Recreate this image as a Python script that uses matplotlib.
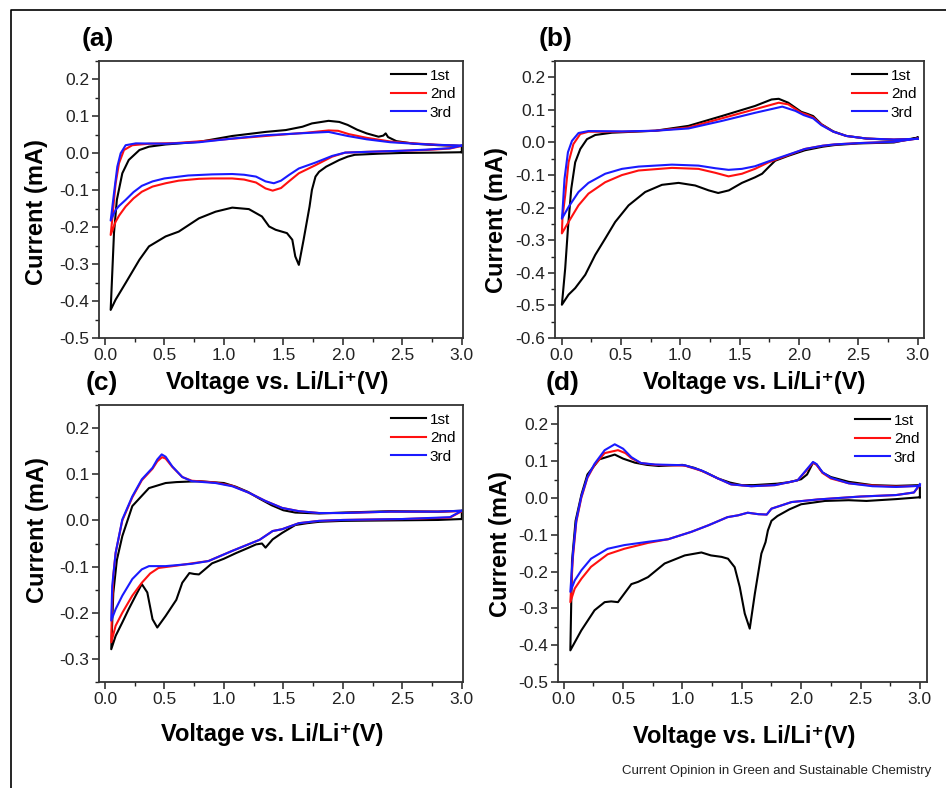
import matplotlib
matplotlib.use("Agg")
import matplotlib.pyplot as plt
from matplotlib.lines import Line2D
from matplotlib.ticker import MultipleLocator, FormatStrFormatter

# ---- panel (a) ----
a_v1 = [3.0, 2.8, 2.5, 2.3, 2.1, 2.04, 1.97, 1.86, 1.8, 1.77, 1.74, 1.72, 1.67, 1.63, 1.6, 1.575, 1.53,
        1.435, 1.38, 1.32, 1.21, 1.07, 0.93, 0.79, 0.62, 0.51, 0.37, 0.29, 0.174, 0.09, 0.048,
        0.062, 0.076, 0.10, 0.146, 0.2, 0.29, 0.37, 0.51, 0.79, 1.07, 1.35, 1.52, 1.66, 1.74, 1.88,
        1.97, 2.04, 2.12, 2.2, 2.3, 2.34, 2.36, 2.38, 2.45, 2.6, 2.8, 3.0, 3.0]
a_i1 = [0.003, 0.002, 0.001, -0.001, -0.004, -0.009, -0.018, -0.036, -0.05, -0.063, -0.099, -0.144, -0.234,
        -0.302, -0.279, -0.234, -0.216, -0.207, -0.198, -0.171, -0.151, -0.147, -0.158, -0.176, -0.212,
        -0.225, -0.252, -0.288, -0.351, -0.396, -0.424,
        -0.32, -0.216, -0.126, -0.054, -0.018, 0.009, 0.018, 0.024, 0.031, 0.047, 0.058, 0.063, 0.072,
        0.081, 0.088, 0.085, 0.077, 0.064, 0.054, 0.045, 0.048, 0.054, 0.044, 0.033, 0.026, 0.022, 0.02, 0.003]
a_v2 = [3.0, 2.9, 2.7, 2.5, 2.2, 2.02, 1.91, 1.77, 1.63, 1.55, 1.48, 1.41, 1.35, 1.27, 1.17, 1.07, 0.9, 0.79,
        0.62, 0.51, 0.4, 0.31, 0.24, 0.174, 0.12, 0.09, 0.048,
        0.061, 0.075, 0.09, 0.118, 0.16, 0.23, 0.37, 0.6, 0.9, 1.2, 1.5, 1.7, 1.88, 1.96, 2.05, 2.2, 2.4,
        2.6, 2.8, 3.0]
a_i2 = [0.02, 0.013, 0.009, 0.007, 0.004, 0.002, -0.009, -0.032, -0.054, -0.075, -0.094, -0.101, -0.095,
        -0.079, -0.071, -0.068, -0.068, -0.069, -0.074, -0.081, -0.09, -0.104, -0.122, -0.144, -0.168,
        -0.185, -0.221,
        -0.18, -0.13, -0.081, -0.027, 0.009, 0.022, 0.026, 0.028, 0.035, 0.043, 0.051, 0.056, 0.062,
        0.061, 0.052, 0.042, 0.032, 0.027, 0.023, 0.02]
a_v3 = [3.0, 2.9, 2.7, 2.5, 2.2, 2.02, 1.91, 1.77, 1.63, 1.55, 1.48, 1.42, 1.35, 1.27, 1.17, 1.07, 0.9, 0.7,
        0.5, 0.4, 0.31, 0.24, 0.174, 0.12, 0.09, 0.048,
        0.056, 0.076, 0.104, 0.132, 0.174, 0.26, 0.51, 0.79, 1.07, 1.35, 1.63, 1.88, 2.04, 2.2, 2.4,
        2.6, 2.8, 3.0]
a_i3 = [0.021, 0.014, 0.01, 0.007, 0.004, 0.002, -0.007, -0.025, -0.041, -0.058, -0.074, -0.081, -0.076,
        -0.063, -0.058, -0.056, -0.057, -0.06, -0.068, -0.076, -0.088, -0.105, -0.126, -0.142, -0.153,
        -0.182,
        -0.162, -0.108, -0.036, 0.0, 0.022, 0.027, 0.026, 0.03, 0.04, 0.049, 0.054, 0.058, 0.047,
        0.038, 0.03, 0.026, 0.023, 0.021]

# ---- panel (b) ----
b_v1 = [3.0, 2.8, 2.5, 2.3, 2.2, 2.05, 1.91, 1.8, 1.744, 1.69, 1.63, 1.52, 1.41, 1.32, 1.24, 1.126, 0.986,
        0.846, 0.705, 0.565, 0.452, 0.368, 0.284, 0.2, 0.115, 0.059, 0.003,
        0.031, 0.054, 0.082, 0.115, 0.158, 0.214, 0.284, 0.425, 0.79, 1.07, 1.35, 1.63, 1.77, 1.83,
        1.91, 2.02, 2.07, 2.12, 2.19, 2.29, 2.4, 2.57, 2.8, 3.0, 3.0]
b_i1 = [0.015, 0.0, -0.003, -0.008, -0.013, -0.024, -0.041, -0.056, -0.076, -0.096, -0.107, -0.124,
        -0.147, -0.155, -0.147, -0.132, -0.124, -0.13, -0.152, -0.193, -0.244, -0.295, -0.345, -0.406,
        -0.447, -0.467, -0.498,
        -0.386, -0.264, -0.142, -0.061, -0.02, 0.01, 0.023, 0.03, 0.036, 0.051, 0.081, 0.112, 0.132,
        0.134, 0.122, 0.094, 0.088, 0.081, 0.056, 0.034, 0.02, 0.012, 0.008, 0.012, 0.015]
b_v2 = [3.0, 2.8, 2.5, 2.3, 2.2, 2.05, 1.857, 1.744, 1.63, 1.52, 1.407, 1.295, 1.154, 0.93, 0.649, 0.509,
        0.368, 0.227, 0.143, 0.059, 0.003,
        0.008, 0.031, 0.059, 0.1, 0.158, 0.227, 0.51, 0.79, 1.07, 1.35, 1.63, 1.83, 1.91, 2.02, 2.07,
        2.12, 2.19, 2.29, 2.4, 2.57, 2.8, 3.0]
b_i2 = [0.012, 0.002, -0.002, -0.006, -0.01, -0.02, -0.046, -0.061, -0.081, -0.096, -0.104, -0.093,
        -0.081, -0.078, -0.086, -0.1, -0.122, -0.157, -0.193, -0.244, -0.279,
        -0.23, -0.162, -0.061, -0.005, 0.026, 0.033, 0.033, 0.036, 0.046, 0.074, 0.102, 0.122, 0.117,
        0.091, 0.085, 0.077, 0.055, 0.033, 0.02, 0.012, 0.009, 0.011]
b_v3 = [3.0, 2.8, 2.5, 2.3, 2.2, 2.05, 1.857, 1.744, 1.63, 1.52, 1.407, 1.295, 1.154, 0.93, 0.649, 0.509,
        0.368, 0.227, 0.143, 0.059, 0.003,
        0.008, 0.025, 0.054, 0.088, 0.143, 0.227, 0.51, 0.79, 1.07, 1.35, 1.63, 1.86, 1.97, 2.04, 2.12,
        2.19, 2.29, 2.4, 2.57, 2.8, 3.0]
b_i3 = [0.012, 0.002, -0.002, -0.006, -0.01, -0.02, -0.044, -0.058, -0.073, -0.081, -0.084, -0.079,
        -0.071, -0.068, -0.074, -0.081, -0.096, -0.124, -0.152, -0.198, -0.234,
        -0.213, -0.112, -0.03, 0.005, 0.029, 0.035, 0.034, 0.036, 0.043, 0.066, 0.091, 0.11, 0.097,
        0.084, 0.074, 0.053, 0.033, 0.02, 0.012, 0.009, 0.011]

# ---- panel (c) ----
c_v1 = [3.0, 2.8, 2.4, 2.0, 1.8, 1.7, 1.6, 1.49, 1.41, 1.35, 1.32, 1.27, 1.2, 1.1, 1.0, 0.9, 0.79, 0.75,
        0.71, 0.65, 0.6, 0.51, 0.44, 0.4, 0.356, 0.31, 0.258, 0.2, 0.146, 0.09, 0.053,
        0.07, 0.1, 0.146, 0.23, 0.37, 0.51, 0.6, 0.79, 1.0, 1.1, 1.2, 1.3, 1.4, 1.5, 1.6, 1.8, 2.0,
        2.4, 2.8, 3.0, 3.0]
c_i1 = [0.003, 0.001, 0.0, -0.001, -0.003, -0.006, -0.01, -0.027, -0.041, -0.059, -0.05, -0.052, -0.06,
        -0.071, -0.083, -0.093, -0.117, -0.116, -0.114, -0.135, -0.172, -0.207, -0.232, -0.214, -0.156,
        -0.138, -0.163, -0.192, -0.221, -0.25, -0.279,
        -0.158, -0.086, -0.034, 0.031, 0.07, 0.081, 0.083, 0.085, 0.081, 0.073, 0.062, 0.047, 0.033,
        0.022, 0.017, 0.015, 0.017, 0.02, 0.019, 0.021, 0.003]
c_v2 = [3.0, 2.9, 2.5, 2.0, 1.8, 1.63, 1.49, 1.41, 1.3, 1.07, 0.87, 0.73, 0.6, 0.51, 0.45, 0.38, 0.31,
        0.23, 0.146, 0.09, 0.053,
        0.058, 0.07, 0.09, 0.146, 0.23, 0.31, 0.40, 0.44, 0.48, 0.51, 0.566, 0.65, 0.73, 0.93, 1.07,
        1.21, 1.35, 1.49, 1.63, 1.8, 2.0, 2.4, 2.8, 3.0]
c_i2 = [0.02, 0.006, 0.003, 0.001, -0.001, -0.006, -0.019, -0.023, -0.042, -0.066, -0.088, -0.093, -0.098,
        -0.101, -0.103, -0.115, -0.135, -0.163, -0.2, -0.228, -0.264,
        -0.2, -0.12, -0.07, 0.0, 0.05, 0.087, 0.112, 0.128, 0.137, 0.134, 0.116, 0.094, 0.086, 0.082,
        0.075, 0.06, 0.042, 0.027, 0.02, 0.016, 0.016, 0.019, 0.019, 0.02]
c_v3 = [3.0, 2.9, 2.5, 2.0, 1.8, 1.63, 1.49, 1.41, 1.3, 1.07, 0.87, 0.73, 0.51, 0.37, 0.31, 0.23, 0.146,
        0.09, 0.053,
        0.061, 0.09, 0.146, 0.23, 0.31, 0.40, 0.44, 0.477, 0.51, 0.566, 0.65, 0.73, 0.93, 1.07, 1.21,
        1.35, 1.49, 1.63, 1.8, 2.0, 2.4, 2.8, 3.0]
c_i3 = [0.021, 0.007, 0.003, 0.001, -0.001, -0.006, -0.019, -0.023, -0.042, -0.066, -0.088, -0.094,
        -0.099, -0.099, -0.106, -0.127, -0.163, -0.192, -0.217,
        -0.142, -0.07, 0.002, 0.052, 0.089, 0.114, 0.132, 0.143, 0.138, 0.117, 0.094, 0.085, 0.081,
        0.074, 0.06, 0.042, 0.027, 0.02, 0.016, 0.016, 0.019, 0.019, 0.021]

# ---- panel (d) ----
d_v1 = [3.0, 2.8, 2.55, 2.4, 2.2, 2.0, 1.9, 1.8, 1.75, 1.72, 1.7, 1.665, 1.61, 1.567, 1.525, 1.483, 1.44,
        1.384, 1.33, 1.24, 1.16, 1.02, 0.85, 0.71, 0.626, 0.57, 0.51, 0.457, 0.4, 0.345, 0.26, 0.148,
        0.056,
        0.07, 0.1, 0.15, 0.2, 0.3, 0.43, 0.5, 0.6, 0.7, 0.8, 1.0, 1.1, 1.2, 1.3, 1.4, 1.5, 1.6, 1.8,
        1.9, 2.0, 2.05, 2.1, 2.13, 2.18, 2.25, 2.4, 2.6, 2.8, 3.0, 3.0]
d_i1 = [0.002, -0.003, -0.008, -0.006, -0.008, -0.017, -0.031, -0.049, -0.062, -0.088, -0.12, -0.151,
        -0.26, -0.355, -0.314, -0.242, -0.188, -0.165, -0.16, -0.156, -0.148, -0.156, -0.178, -0.215,
        -0.228, -0.234, -0.26, -0.283, -0.281, -0.283, -0.305, -0.36, -0.414,
        -0.171, -0.062, 0.01, 0.064, 0.105, 0.118, 0.107, 0.096, 0.09, 0.087, 0.09, 0.082, 0.069,
        0.053, 0.042, 0.035, 0.035, 0.039, 0.043, 0.051, 0.064, 0.096, 0.091, 0.069, 0.057, 0.044,
        0.035, 0.033, 0.035, 0.002]
d_v2 = [3.0, 2.95, 2.8, 2.5, 2.14, 1.92, 1.75, 1.71, 1.64, 1.55, 1.47, 1.38, 1.22, 1.075, 0.88, 0.71,
        0.51, 0.37, 0.23, 0.15, 0.093, 0.056,
        0.078, 0.106, 0.148, 0.2, 0.26, 0.345, 0.457, 0.52, 0.57, 0.65, 0.77, 1.02, 1.16, 1.3, 1.41,
        1.58, 1.78, 1.97, 2.04, 2.1, 2.13, 2.18, 2.25, 2.4, 2.6, 2.8, 3.0]
d_i2 = [0.035, 0.015, 0.008, 0.004, -0.004, -0.011, -0.029, -0.045, -0.044, -0.04, -0.047, -0.052, -0.074,
        -0.092, -0.112, -0.122, -0.138, -0.153, -0.187, -0.219, -0.246, -0.283,
        -0.16, -0.065, 0.0, 0.055, 0.09, 0.122, 0.13, 0.122, 0.108, 0.095, 0.09, 0.088, 0.074, 0.053,
        0.037, 0.032, 0.035, 0.048, 0.073, 0.096, 0.09, 0.068, 0.053, 0.04, 0.034, 0.031, 0.033]
d_v3 = [3.0, 2.95, 2.8, 2.5, 2.14, 1.92, 1.75, 1.71, 1.64, 1.55, 1.47, 1.38, 1.22, 1.075, 0.88, 0.71,
        0.51, 0.37, 0.23, 0.15, 0.093, 0.056,
        0.078, 0.106, 0.148, 0.2, 0.26, 0.345, 0.43, 0.5, 0.57, 0.65, 0.77, 1.02, 1.16, 1.3, 1.41,
        1.58, 1.78, 1.97, 2.04, 2.1, 2.13, 2.18, 2.25, 2.4, 2.6, 2.8, 3.0]
d_i3 = [0.038, 0.015, 0.008, 0.004, -0.004, -0.011, -0.029, -0.045, -0.044, -0.04, -0.047, -0.052, -0.074,
        -0.092, -0.112, -0.119, -0.128, -0.138, -0.165, -0.196, -0.224, -0.255,
        -0.151, -0.061, 0.003, 0.057, 0.093, 0.13, 0.146, 0.134, 0.111, 0.095, 0.091, 0.089, 0.075,
        0.053, 0.037, 0.032, 0.035, 0.048, 0.075, 0.098, 0.092, 0.07, 0.055, 0.04, 0.032, 0.03, 0.033]

cycle_labels = ["1st", "2nd", "3rd"]
cycle_colors = ["black", "#ff1010", "#1a1aff"]

W, H = 946, 788


def px_box(left, top, right, bottom):
    # pixel box -> figure fraction
    return [left / W, 1 - bottom / H, (right - left) / W, (bottom - top) / H]


def draw_panel(fig, box, curves, ylim, xlim):
    ax = fig.add_axes(px_box(*box))
    for (v, i), lab, col in zip(curves, cycle_labels, cycle_colors):
        ax.plot(v, i, color=col, lw=1.5, label=lab)
    ax.set_xlim(*xlim)
    ax.set_ylim(*ylim)
    ax.xaxis.set_major_locator(MultipleLocator(0.5))
    ax.xaxis.set_minor_locator(MultipleLocator(0.25))
    ax.yaxis.set_major_locator(MultipleLocator(0.1))
    ax.yaxis.set_minor_locator(MultipleLocator(0.05))
    ax.xaxis.set_major_formatter(FormatStrFormatter("%.1f"))
    ax.yaxis.set_major_formatter(FormatStrFormatter("%.1f"))
    ax.tick_params(which="major", direction="out", length=5, width=1.1, labelsize=12.5,
                   colors="#222222", pad=2)
    ax.tick_params(which="minor", direction="out", length=3, width=1.0, colors="#222222")
    for s in ax.spines.values():
        s.set_linewidth(1.3)
        s.set_color("#333333")
    ax.legend(loc="upper right", frameon=False, fontsize=11, handlelength=2.3,
              handletextpad=0.25, labelspacing=0.3, borderaxespad=0.1)
    return ax


def main():
    plt.rcParams["font.family"] = ["Liberation Sans", "DejaVu Sans"]
    plt.rcParams["axes.unicode_minus"] = False

    fig = plt.figure(figsize=(W / 100, H / 100), dpi=100)

    draw_panel(fig, (99, 61, 463, 338), [(a_v1, a_i1), (a_v2, a_i2), (a_v3, a_i3)],
               (-0.5, 0.25), (-0.05, 3.01))
    draw_panel(fig, (555, 61, 924, 338), [(b_v1, b_i1), (b_v2, b_i2), (b_v3, b_i3)],
               (-0.6, 0.25), (-0.055, 3.054))
    draw_panel(fig, (99, 405, 463, 682), [(c_v1, c_i1), (c_v2, c_i2), (c_v3, c_i3)],
               (-0.35, 0.25), (-0.05, 3.01))
    draw_panel(fig, (558, 406, 927, 682), [(d_v1, d_i1), (d_v2, d_i2), (d_v3, d_i3)],
               (-0.5, 0.25), (-0.048, 3.06))

    # panel letters, axis titles
    def ftext(x, y, s, **kw):
        fig.text(x / W, 1 - y / H, s, ha="center", va="center", **kw)

    for x, y, s in [(98, 39, "(a)"), (556, 39, "(b)"), (102, 383, "(c)"), (563, 383, "(d)")]:
        ftext(x, y, s, fontsize=19, fontweight="bold")

    xlab = "Voltage vs. Li/Li\u207a(V)"
    for x, y in [(277, 383), (754, 383), (272, 734), (744, 737)]:
        ftext(x, y, xlab, fontsize=17, fontweight="bold")
    for x, y in [(36, 212), (497, 220), (38, 530), (501, 544)]:
        ftext(x, y, "Current (mA)", fontsize=17, fontweight="bold", rotation=90)

    fig.text(931 / W, 1 - 771 / H, "Current Opinion in Green and Sustainable Chemistry",
             ha="right", va="center", fontsize=9.5, color="#222222")

    # outer frame (left and top edges)
    fig.add_artist(Line2D([11 / W, 11 / W, 1.0], [0.0, 1 - 10 / H, 1 - 10 / H],
                          transform=fig.transFigure, color="black", lw=1.2))

    fig.savefig("out.png", dpi=100)


if __name__ == "__main__":
    main()
